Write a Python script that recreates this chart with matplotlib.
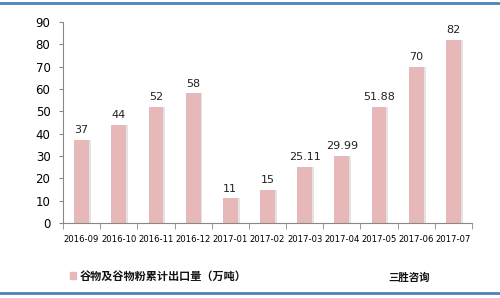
import matplotlib
matplotlib.use("Agg")
import matplotlib.pyplot as plt
from matplotlib.patches import Rectangle
from matplotlib.lines import Line2D

plt.rcParams['font.family'] = ['Noto Sans CJK SC', 'DejaVu Sans']

categories = ["2016-09", "2016-10", "2016-11", "2016-12", "2017-01", "2017-02",
              "2017-03", "2017-04", "2017-05", "2017-06", "2017-07"]
values = [37, 44, 52, 58, 11, 15, 25.11, 29.99, 51.88, 70, 82]
labels = ["37", "44", "52", "58", "11", "15", "25.11", "29.99", "51.88", "70", "82"]
series_name = "谷物及谷物粉累计出口量（万吨）"
source = "三胜咨询"

W, H = 500, 298
fig = plt.figure(figsize=(W / 100, H / 100), dpi=100)
ax = fig.add_axes([63 / W, 1 - 223 / H, 409 / W, 201 / H])

x = list(range(len(categories)))
bw = 0.4
# shadow
ax.bar([i + 0.05 for i in x], values, width=bw, color="#e3e3e3", zorder=1)
ax.bar(x, values, width=bw, color="#e6b8b7", zorder=2)
for i, (v, t) in enumerate(zip(values, labels)):
    ax.text(i, v + 2.2, t, ha="center", va="bottom", fontsize=8, color="#222222",
            family="DejaVu Sans")

ax.set_xlim(-0.5, len(categories) - 0.5)
ax.set_ylim(0, 90)
ax.set_yticks(range(0, 91, 10))
ax.set_xticks(x)
ax.set_xticklabels(categories, fontsize=6.1, family="DejaVu Sans")
for lb in ax.get_yticklabels():
    lb.set_family("DejaVu Sans")
ax.tick_params(axis="y", labelsize=8.5, length=3, color="#888888", pad=6)
ax.tick_params(axis="x", length=0, pad=9)
ax.set_xticks([i - 0.5 for i in range(len(categories) + 1)], minor=True)
ax.tick_params(axis="x", which="minor", length=4, color="#888888")
for s in ["top", "right"]:
    ax.spines[s].set_visible(False)
for s in ["left", "bottom"]:
    ax.spines[s].set_color("#888888")
    ax.spines[s].set_linewidth(0.8)

# legend
fig.patches.append(Rectangle((70 / W, 1 - 279 / H), 6 / W, 7 / H,
                             transform=fig.transFigure, color="#e6b8b7"))
fig.text(80 / W, 1 - 276 / H, series_name, fontsize=8, va="center", ha="left",
         color="#111111", weight="bold")
fig.text(388 / W, 1 - 277 / H, source, fontsize=7.5, va="center", ha="left",
         color="#111111", weight="bold")

# blue frame lines
fig.add_artist(Line2D([0, 1], [1 - 3 / H, 1 - 3 / H], transform=fig.transFigure,
                      color="#4f81bd", lw=2))
fig.add_artist(Line2D([0, 1], [1 - 293 / H, 1 - 293 / H], transform=fig.transFigure,
                      color="#4f81bd", lw=2))

fig.savefig("out.png", dpi=100)
